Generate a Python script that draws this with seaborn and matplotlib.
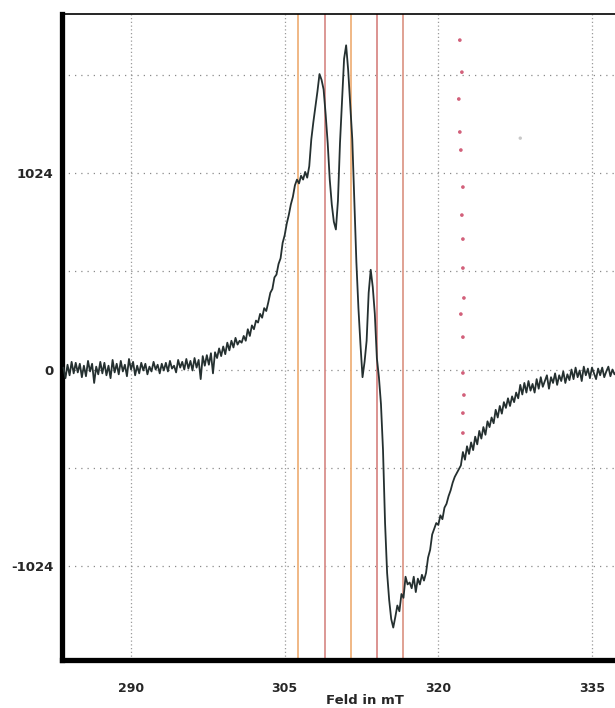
# EPR-Spektrum nachzeichnen
import numpy as np
import pandas as pd
import matplotlib.pyplot as plt
import seaborn as sns
from matplotlib.ticker import FixedLocator

feld = np.round(np.arange(283.4, 337.5, 0.2), 1)

# 283.4 - 297.2 mT : Grundlinie
basis_links = [
    10, -45, 25, -30, 40, -20, 35, -15, 30, -40,
    20, -35, 45, -10, 30, -70, 15, -25, 40, -20,
    35, -30, 20, -45, 50, -15, 30, -25, 45, -10,
    25, -35, 55, 0, 40, -30, 20, -20, 35, -5,
    30, -25, 15, -10, 40, 0, 25, -20, 30, -5,
    35, -10, 45, 5, 20, -15, 50, 10, 40, 0,
    55, 5, 45, -5, 60, 10, 50, -50, 70, 20,
]
# 297.4 - 307.2 mT : Anstieg
anstieg = [
    75, 25, 85, -20, 90, 60, 110, 70, 120, 80,
    140, 100, 150, 115, 165, 130, 150, 140, 175, 150,
    210, 175, 230, 210, 255, 245, 290, 270, 320, 305,
    350, 400, 420, 480, 495, 550, 580, 660, 700, 760,
    805, 860, 900, 960, 990, 970, 1010, 990, 1030, 1000,
]
# 307.4 - 315.2 mT : Linien
linien = [
    1060, 1200, 1290, 1370, 1450, 1540, 1510, 1460, 1330, 1180,
    990, 860, 770, 730, 880, 1180, 1400, 1620, 1690, 1560,
    1380, 1200, 880, 560, 320, 130, -40, 40, 150, 400,
    520, 430, 290, 60, -40, -180, -420, -800, -1060, -1200,
]
# 315.4 - 323.2 mT : Senke
senke = [
    -1300, -1345, -1290, -1230, -1260, -1170, -1190, -1080, -1120, -1110,
    -1140, -1080, -1160, -1090, -1120, -1070, -1100, -1060, -980, -940,
    -860, -830, -800, -810, -760, -780, -720, -700, -660, -630,
    -590, -560, -540, -520, -500, -430, -470, -400, -440, -380,
]
# 323.4 - 337.4 mT : Auslauf
auslauf = [
    -420, -350, -390, -320, -360, -300, -340, -270, -300, -250,
    -280, -210, -250, -190, -230, -170, -200, -150, -190, -140,
    -170, -120, -150, -80, -130, -70, -120, -60, -110, -75,
    -120, -50, -100, -40, -90, -60, -30, -100, -40, -70,
    -20, -80, -30, -60, -10, -70, -25, -55, 0, -50,
    10, -40, -5, -60, 15, -30, 5, -45, 10, -20,
    -50, 5, -30, 10, -40, -10, 15, -35, 0, -25,
    -10,
]
signal = basis_links + anstieg + linien + senke + auslauf

df = pd.DataFrame({'feld': feld, 'signal': signal})

# Markierungslinien
marker_feld = [306.3, 308.9, 311.5, 314.0, 316.6]
marker_farben = ['#efb27c', '#d9908c', '#efb27c', '#d98a88', '#dd9a8a']

# rote Punktreihe
punkte_feld = [322.1, 322.3, 322.0, 322.1, 322.2, 322.4, 322.3, 322.4,
               322.4, 322.5, 322.2, 322.4, 322.4, 322.5, 322.4, 322.4]
punkte_signal = [1717, 1550, 1410, 1238, 1144, 951, 805, 680,
                 529, 373, 289, 169, -18, -133, -227, -331]
grau_feld = [328.0]
grau_signal = [1206]

x_ticks = [290, 305, 320, 335]
y_ticks = [-1024, 0, 1024]
y_grid = [-1536, -512, 512, 1536]

sns.set_style('white')
plt.rcParams['font.family'] = ['DejaVu Sans']

fig = plt.figure(figsize=(6.15, 7.08), dpi=100)
ax = fig.add_axes([0.1008, 0.0678, 0.985, 0.9124])

for xv, c in zip(marker_feld, marker_farben):
    ax.axvline(xv, color=c, lw=1.3, zorder=1)

sns.lineplot(data=df, x='feld', y='signal', color='#253030', lw=1.3,
             ax=ax, zorder=3)
sns.scatterplot(x=punkte_feld, y=punkte_signal, color='#d2607a', s=7,
                edgecolor='none', ax=ax, zorder=2)
sns.scatterplot(x=grau_feld, y=grau_signal, color='#c8c8c8', s=6,
                edgecolor='none', ax=ax, zorder=2)

ax.set_xlim(283.26, 342.4)
ax.set_ylim(-1514, 1853)

ax.set_xticks(x_ticks)
ax.set_yticks(y_ticks)
ax.yaxis.set_minor_locator(FixedLocator(y_grid))
ax.set_xticklabels([str(t) for t in x_ticks], fontsize=9, fontweight='bold')
ax.set_yticklabels([str(t) for t in y_ticks], fontsize=9.5, fontweight='bold')

ax.grid(True, which='both', axis='y', linestyle=(0, (1, 4)), color='#8a8a8a', lw=0.9)
ax.grid(True, which='major', axis='x', linestyle=(0, (1, 2)), color='#9a9a9a', lw=0.9)

ax.tick_params(axis='x', which='major', direction='out', length=9, width=3.5,
               pad=7, color='black')
ax.tick_params(axis='y', which='major', direction='out', length=4, width=3.5,
               pad=2, color='black')
ax.tick_params(axis='y', which='minor', length=0)

ax.spines['left'].set_linewidth(3.8)
ax.spines['bottom'].set_linewidth(3.8)
ax.spines['top'].set_linewidth(1.2)
ax.spines['right'].set_visible(False)
for s in ax.spines.values():
    s.set_color('black')

ax.set_xlabel('Feld in mT', fontsize=9.5, fontweight='bold', labelpad=-1)
ax.set_ylabel('')

fig.savefig('out.png', dpi=100)
